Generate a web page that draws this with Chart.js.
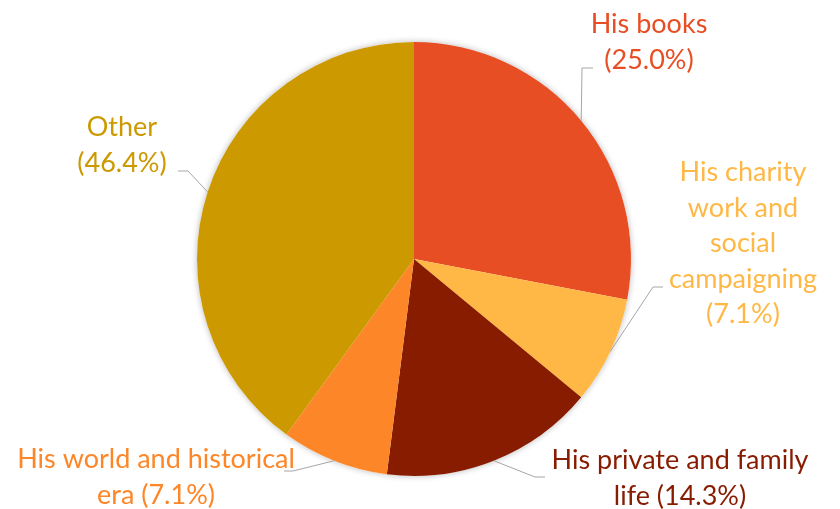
<!DOCTYPE html>
<html>
<head>
<meta charset="utf-8">
<script src="https://cdn.jsdelivr.net/npm/chart.js@4"></script>
<style>
  html, body { margin: 0; padding: 0; background: #fff; }
  #wrap { width: 840px; height: 509px; }
</style>
</head>
<body>
<div id="wrap"><canvas id="c" width="840" height="509"></canvas></div>
<script>
// ---- data ----
const categories = ['His books', 'His charity work and social campaigning', 'His private and family life', 'His world and historical era', 'Other'];
const values = [7, 2, 4, 2, 10];
const percentLabels = ['25.0%', '7.1%', '14.3%', '7.1%', '46.4%'];
const colors = ['#E84E24', '#FFB845', '#871C00', '#FC8628', '#CC9900'];

// ---- label layout (positions/styling only) ----
const labelLayout = [
  { lines: ['His books', '(' + percentLabels[0] + ')'], x: 649, y: 33, elbow: [582, 68], end: [593, 68] },
  { lines: ['His charity', 'work and', 'social', 'campaigning', '(' + percentLabels[1] + ')'], x: 743, y: 181, elbow: [653, 287], end: [663, 287] },
  { lines: ['His private and family', 'life (' + percentLabels[2] + ')'], x: 680, y: 469, elbow: [535, 477], end: [545, 477] },
  { lines: ['His world and historical', 'era (' + percentLabels[3] + ')'], x: 156, y: 468, elbow: [293, 471], end: [284, 471] },
  { lines: ['Other', '(' + percentLabels[4] + ')'], x: 122, y: 136, elbow: [188, 171], end: [178, 171] }
];
const lineGap = 35.5;
const fontSpec = '27px Lato, "Open Sans", sans-serif';

const shadowPlugin = {
  id: 'pieShadow',
  beforeDatasetsDraw(chart) {
    const arc = chart.getDatasetMeta(0).data[0];
    if (!arc) return;
    const ctx = chart.ctx;
    ctx.save();
    ctx.beginPath();
    ctx.arc(arc.x, arc.y, arc.outerRadius, 0, Math.PI * 2);
    ctx.fillStyle = '#ffffff';
    ctx.shadowColor = 'rgba(0,0,0,0.28)';
    ctx.shadowBlur = 6;
    ctx.fill();
    ctx.restore();
  }
};

const labelPlugin = {
  id: 'outLabels',
  afterDatasetsDraw(chart) {
    const ctx = chart.ctx;
    const arcs = chart.getDatasetMeta(0).data;
    ctx.save();
    arcs.forEach((arc, i) => {
      const L = labelLayout[i];
      const mid = (arc.startAngle + arc.endAngle) / 2;
      const sx = arc.x + Math.cos(mid) * arc.outerRadius;
      const sy = arc.y + Math.sin(mid) * arc.outerRadius;
      ctx.beginPath();
      ctx.moveTo(sx, sy);
      ctx.lineTo(L.elbow[0], L.elbow[1]);
      ctx.lineTo(L.end[0], L.end[1]);
      ctx.strokeStyle = '#A6A6A6';
      ctx.lineWidth = 1;
      ctx.stroke();
      ctx.fillStyle = colors[i];
      ctx.font = fontSpec;
      ctx.textAlign = 'center';
      ctx.textBaseline = 'alphabetic';
      L.lines.forEach((t, k) => ctx.fillText(t, L.x, L.y + k * lineGap));
    });
    ctx.restore();
  }
};

new Chart(document.getElementById('c'), {
  type: 'pie',
  data: {
    labels: categories,
    datasets: [{
      data: values,
      backgroundColor: colors,
      borderWidth: 0,
      hoverOffset: 0
    }]
  },
  options: {
    responsive: false,
    animation: false,
    rotation: 0,
    layout: { padding: { top: 42, bottom: 33, left: 100, right: 112 } },
    plugins: {
      legend: { display: false },
      tooltip: { enabled: false }
    }
  },
  plugins: [shadowPlugin, labelPlugin]
});
</script>
</body>
</html>
